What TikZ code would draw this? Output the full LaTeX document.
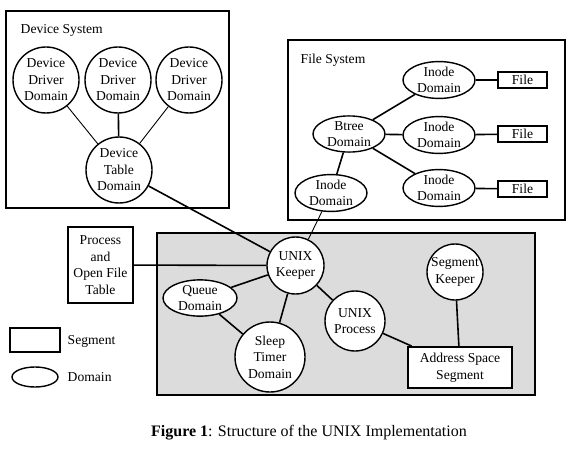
\documentclass[tikz,border=0pt]{standalone}
\usepackage{fontspec}
\setmainfont{Liberation Serif}
\usetikzlibrary{shapes.geometric}

\tikzset{
    dom/.style={circle, draw, line width=1.4pt, fill=white, minimum size=#1, inner sep=0pt, align=center},
    dom/.default=66pt,
    domell/.style={ellipse, draw, line width=1.4pt, fill=white, minimum width=72pt, minimum height=36pt, inner sep=0pt, align=center},
    seg/.style={rectangle, draw, line width=1.8pt, fill=white, inner sep=0pt, align=center},
    link/.style={line width=1.6pt},
    thinlink/.style={line width=0.9pt}
}

\begin{document}
\begin{tikzpicture}[x=1pt, y=-1pt, font=\fontsize{13.6}{16.5}\selectfont, thick]
        \useasboundingbox (0,0) rectangle (577,449);

        % Device System
        \draw[line width=2.4pt] (6,11) rectangle (229,208);
        \node[anchor=west] (devlabel) at (17,30) {Device System};
        \node[dom] (drvA) at (46,80) {Device\\Driver\\Domain};
        \node[dom] (drvB) at (118,80) {Device\\Driver\\Domain};
        \node[dom] (drvC) at (189,80) {Device\\Driver\\Domain};
        \node[dom] (devtab) at (119,170) {Device\\Table\\Domain};
        \draw[thinlink] (drvA) -- (devtab);
        \draw[link] (drvB) -- (devtab);
        \draw[thinlink] (drvC) -- (devtab);

        % File System
        \draw[line width=2.4pt] (288,40) rectangle (565,220);
        \node[anchor=west] (fslabel) at (297,60) {File System};
        \node[domell] (btree) at (349,134) {Btree\\Domain};
        \node[domell] (inodeA) at (439,80) {Inode\\Domain};
        \node[domell] (inodeB) at (439,135) {Inode\\Domain};
        \node[domell] (inodeC) at (439,188) {Inode\\Domain};
        \node[domell] (inodeD) at (331,193) {Inode\\Domain};
        \foreach \n/\y in {A/80, B/134, C/189} {
            \node[seg, minimum width=49pt, minimum height=16pt] (file\n) at (522.5,\y) {File};
            \draw[link] (inode\n) -- (file\n);
            \draw[link] (btree) -- (inode\n);
        }
        \draw[link] (btree) -- (inodeD);

        % UNIX box
        \draw[line width=2.4pt, fill={rgb,255:red,220;green,220;blue,220}] (157,233) rectangle (535,395);
        \node[dom=57pt] (keeper) at (295.5,265.5) {UNIX\\Keeper};
        \node[domell, minimum width=74pt] (queue) at (200,298) {Queue\\Domain};
        \node[dom=70pt] (sleep) at (270,357) {Sleep\\Timer\\Domain};
        \node[dom=60pt] (uproc) at (355,321) {UNIX\\Process};
        \node[dom=56pt] (segkeep) at (455,272) {Segment\\Keeper};
        \node[seg, minimum width=104pt, minimum height=41pt] (addrspace) at (460,367.5) {Address Space\\Segment};
        \node[seg, minimum width=65pt, minimum height=76pt] (proctab) at (100.5,265) {Process\\and\\Open File\\Table};

        \draw[link] (devtab) -- (keeper);
        \draw[thinlink] (inodeD) -- (keeper);
        \draw[link] (proctab) -- (keeper);
        \draw[link] (queue) -- (keeper);
        \draw[link] (queue) -- (sleep);
        \draw[link] (sleep) -- (keeper);
        \draw[link] (keeper) -- (uproc);
        \draw[link] (uproc) -- (addrspace);
        \draw[link] (segkeep) -- (addrspace);

        % Legend
        \node[seg, minimum width=50pt, minimum height=24pt] (legseg) at (35,340) {};
        \node[anchor=west] (legsegtext) at (64,341) {Segment};
        \node[ellipse, draw, line width=1.4pt, minimum width=46pt, minimum height=20pt, inner sep=0pt] (legdom) at (35,377) {};
        \node[anchor=west] (legdomtext) at (64,377) {Domain};

        % Caption
        \node (caption) at (309,433) {\fontsize{16}{18}\selectfont\textbf{Figure 1}: Structure of the UNIX Implementation};
    \end{tikzpicture}
\end{document}
